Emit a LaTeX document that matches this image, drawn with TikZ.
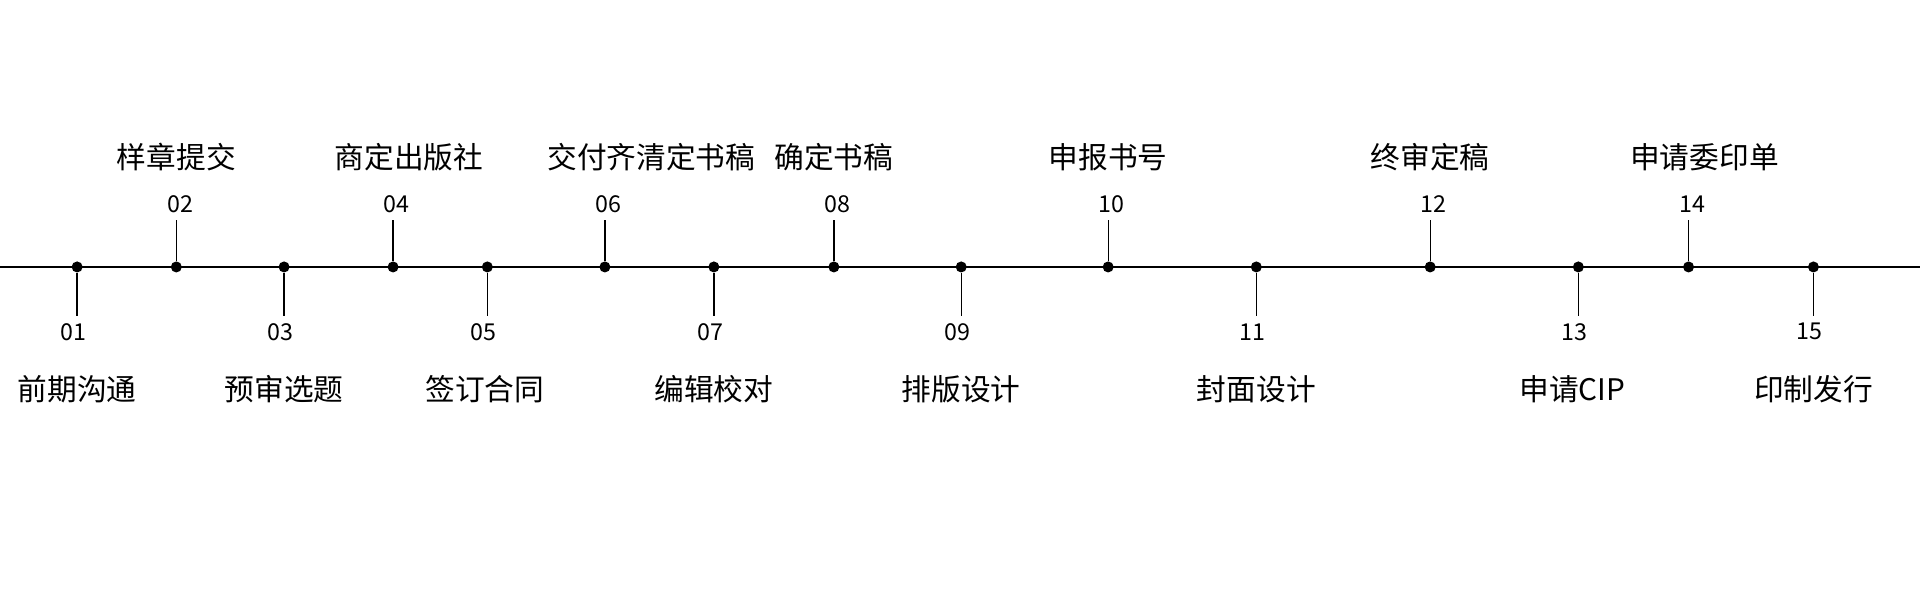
\documentclass[tikz,border=0pt]{standalone}
\usepackage{fontspec}
\setmainfont{Noto Sans CJK SC}
\tikzset{
 dot/.style={circle,fill,inner sep=0pt,minimum size=0.09cm},
 num/.style={font=\fontsize{5.4pt}{6pt}\selectfont},
 lbl/.style={font=\fontsize{6.9pt}{8pt}\selectfont}
}
\begin{document}
\begin{tikzpicture}[x=0.01cm,y=-0.01cm]
 \useasboundingbox (0,0) rectangle (1568,490);
 \coordinate (L) at (0,218);
 \coordinate (R) at (1568,218);
 \draw[line width=0.3pt] (L) to (R);

 % odd steps below the line
 \foreach \n/\x/\t/\dx in {01/63/前期沟通/0,03/232/预审选题/0,05/398/签订合同/-2,07/583/编辑校对/0,09/785/排版设计/0,11/1026/封面设计/0,13/1289/申请CIP/-5,15/1481/印制发行/0}{
  \node[dot] (p\n) at (\x,218) {};
  \coordinate (t\n) at (\x,258);
  \draw[line width=0.3pt] (p\n) to (t\n);
  \node[num] (n\n) at (\x-3,271) {\n};
  \node[lbl] (l\n) at (\x+\dx,318) {\t};
 }

 % even steps above the line
 \foreach \n/\x/\t/\dx in {02/144/样章提交/0,04/321/商定出版社/13,06/494/交付齐清定书稿/38,08/681/确定书稿/0,10/905/申报书号/0,12/1168/终审定稿/0,14/1379/申请委印单/13}{
  \node[dot] (p\n) at (\x,218) {};
  \coordinate (t\n) at (\x,180);
  \draw[line width=0.3pt] (p\n) to (t\n);
  \node[num] (n\n) at (\x+3,167) {\n};
  \node[lbl] (l\n) at (\x+\dx,128) {\t};
 }
\end{tikzpicture}
\end{document}
